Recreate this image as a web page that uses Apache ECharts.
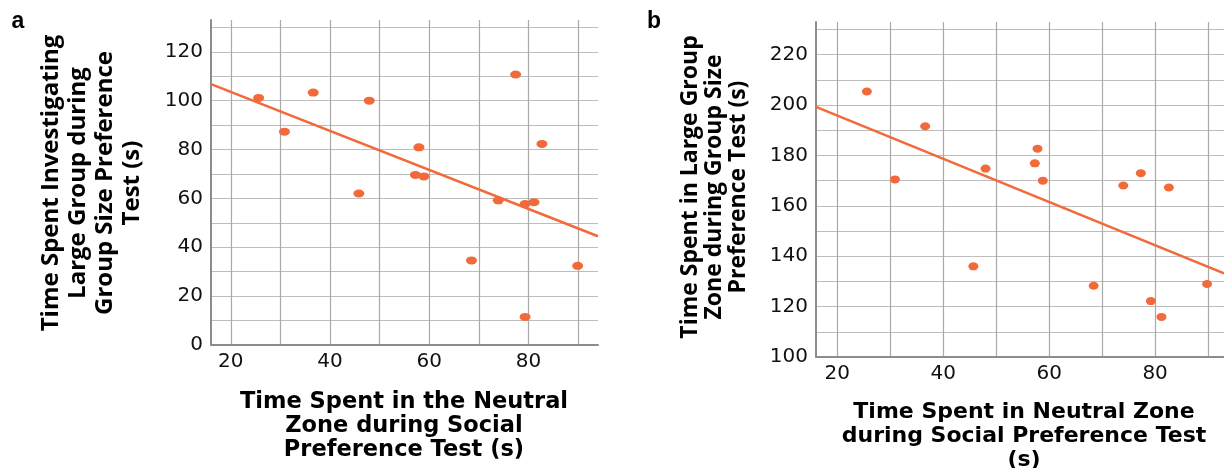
<!DOCTYPE html>
<html>
<head>
<meta charset="utf-8">
<script src="https://cdn.jsdelivr.net/npm/echarts@6/dist/echarts.min.js"></script>
<style>html,body{margin:0;background:#fff}#chart{width:1224px;height:468px}</style>
</head>
<body>
<div id="chart"></div>
<script>
// panel a: neutral zone time vs time investigating large group
const neutralA = [25.6, 30.8, 36.6, 47.9, 45.8, 57.9, 57.2, 58.9, 68.5, 73.9, 77.4, 79.3, 81.1, 82.7, 79.3, 89.9];
const investigateA = [101.1, 87.3, 103.3, 100.0, 62.0, 80.9, 69.6, 69.0, 34.6, 59.2, 110.7, 57.7, 58.4, 82.3, 11.5, 32.4];
// panel b: neutral zone time vs time in large group zone
const neutralB = [25.6, 30.9, 36.6, 48.0, 45.7, 57.3, 57.8, 58.8, 68.4, 74.0, 77.3, 79.2, 81.2, 82.6, 89.8];
const largeZoneB = [205.4, 170.5, 191.6, 174.8, 136.0, 176.9, 182.7, 170.0, 128.3, 168.1, 173.0, 122.2, 115.9, 167.3, 129.0];

const xRangeA = [16, 94], yRangeA = [0, 133];
const xRangeB = [16, 93], yRangeB = [100, 233];

const ORANGE = '#f26a3a';
const TICK_FONT = 'DejaVu Sans';

// least squares line across the axis range
function fitLine(xs, ys, range) {
  const n = xs.length;
  const mx = xs.reduce((a, b) => a + b, 0) / n;
  const my = ys.reduce((a, b) => a + b, 0) / n;
  let sxy = 0, sxx = 0;
  for (let i = 0; i < n; i++) {
    sxy += (xs[i] - mx) * (ys[i] - my);
    sxx += (xs[i] - mx) * (xs[i] - mx);
  }
  const k = sxy / sxx, b = my - k * mx;
  return range.map((x) => [x, b + k * x]);
}

const zip = (xs, ys) => xs.map((x, i) => [x, ys[i]]);
const every20 = (v) => (Math.abs(v % 20) < 1e-9 ? String(v) : '');

function xAxisCfg(gi, range) {
  return {
    type: 'value', gridIndex: gi, min: range[0], max: range[1], splitNumber: 8,
    axisLine: { show: true, onZero: false, lineStyle: { color: '#8c8c8c', width: 2 } },
    axisTick: { show: false },
    axisLabel: {
      formatter: every20, showMinLabel: false, showMaxLabel: false,
      margin: 7, color: '#111', fontSize: 20, fontFamily: TICK_FONT,
    },
    splitLine: { show: true, showMinLine: false, showMaxLine: false, lineStyle: { color: '#a9a9a9', width: 1.2 } },
  };
}

function yAxisCfg(gi, range) {
  return {
    type: 'value', gridIndex: gi, min: range[0], max: range[1], interval: 10,
    axisLine: { show: true, onZero: false, lineStyle: { color: '#8c8c8c', width: 2 } },
    axisTick: { show: false },
    axisLabel: {
      formatter: every20, showMaxLabel: false,
      margin: 8, color: '#111', fontSize: 20, fontFamily: TICK_FONT,
    },
    splitLine: { show: true, showMinLine: false, showMaxLine: false, lineStyle: { color: '#bdbdbd', width: 1.2 } },
  };
}

function titleText(x, y, text, opts) {
  return {
    type: 'text', x, y, rotation: opts.rotate ? Math.PI / 2 : 0, silent: true,
    style: {
      text, fill: '#000', fontSize: opts.size, fontWeight: 'bold', fontFamily: opts.family,
      lineHeight: opts.lh, textAlign: 'center', textVerticalAlign: 'middle',
    },
  };
}

const chart = echarts.init(document.getElementById('chart'), null, { renderer: 'canvas' });

chart.setOption({
  animation: false,
  backgroundColor: '#fff',
  grid: [
    { left: 211, top: 20, width: 387, height: 325 },
    { left: 816, top: 22, width: 408, height: 335 },
  ],
  xAxis: [xAxisCfg(0, xRangeA), xAxisCfg(1, xRangeB)],
  yAxis: [yAxisCfg(0, yRangeA), yAxisCfg(1, yRangeB)],
  series: [
    {
      type: 'line', xAxisIndex: 0, yAxisIndex: 0, data: fitLine(neutralA, investigateA, xRangeA),
      showSymbol: false, silent: true, lineStyle: { color: ORANGE, width: 2.5 }, z: 2,
    },
    {
      type: 'scatter', xAxisIndex: 0, yAxisIndex: 0, data: zip(neutralA, investigateA),
      symbolSize: [11, 8], itemStyle: { color: ORANGE, opacity: 1 }, z: 3,
    },
    {
      type: 'line', xAxisIndex: 1, yAxisIndex: 1, data: fitLine(neutralB, largeZoneB, xRangeB),
      showSymbol: false, silent: true, lineStyle: { color: ORANGE, width: 2.5 }, z: 2,
    },
    {
      type: 'scatter', xAxisIndex: 1, yAxisIndex: 1, data: zip(neutralB, largeZoneB),
      symbolSize: [10, 8], itemStyle: { color: ORANGE, opacity: 1 }, z: 3,
    },
  ],
  graphic: [
    titleText(18, 22, 'a', { size: 23, family: 'Liberation Sans', lh: 24 }),
    titleText(654, 22, 'b', { size: 23, family: 'Liberation Sans', lh: 24 }),
    titleText(92, 183, 'Time Spent Investigating\nLarge Group during\nGroup Size Preference\nTest (s)',
      { rotate: true, size: 24, family: 'Open Sans', lh: 27 }),
    titleText(714, 187, 'Time Spent in Large Group\nZone during Group Size\nPreference Test (s)',
      { rotate: true, size: 23, family: 'Open Sans', lh: 24 }),
    titleText(404, 426, 'Time Spent in the Neutral\nZone during Social\nPreference Test (s)',
      { size: 22.5, family: 'DejaVu Sans', lh: 24 }),
    titleText(1024, 436, 'Time Spent in Neutral Zone\nduring Social Preference Test\n(s)',
      { size: 22, family: 'DejaVu Sans', lh: 24 }),
  ],
});
</script>
</body>
</html>
